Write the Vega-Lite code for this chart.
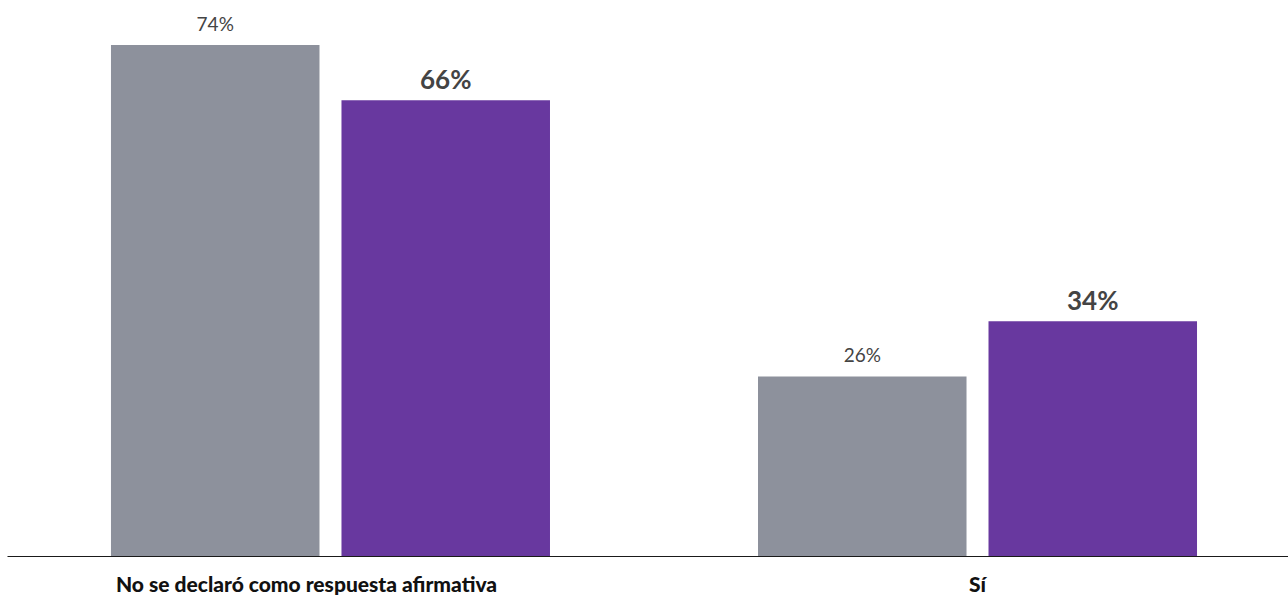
{
  "$schema": "https://vega.github.io/schema/vega-lite/v6.json",
  "autosize": "none",
  "padding": {"left": 7, "top": 0, "right": 0, "bottom": 42},
  "width": 1294,
  "height": 556,
  "background": "white",
  "config": {"view": {"stroke": null}, "font": "Lato"},
  "data": {
    "values": [
      {"categoria": "No se declaró como respuesta afirmativa", "serie": "Serie 1", "valor": 0.74},
      {"categoria": "No se declaró como respuesta afirmativa", "serie": "Serie 2", "valor": 0.66},
      {"categoria": "Sí", "serie": "Serie 1", "valor": 0.26},
      {"categoria": "Sí", "serie": "Serie 2", "valor": 0.34}
    ]
  },
  "encoding": {
    "x": {
      "field": "categoria",
      "type": "nominal",
      "sort": null,
      "scale": {"paddingInner": 0.3215, "paddingOuter": 0.1607},
      "axis": {
        "title": null,
        "labelAngle": 0,
        "ticks": false,
        "domainColor": "#1a1a1a",
        "domainWidth": 1.2,
        "labelFont": "Lato",
        "labelFontWeight": 900,
        "labelFontSize": 21,
        "labelColor": "#111111",
        "labelPadding": 18,
        "labelLimit": 0,
        "labelOffset": {"condition": {"test": "datum.value === 'Sí'", "value": 0}, "value": -24}
      }
    },
    "xOffset": {
      "field": "serie",
      "type": "nominal",
      "scale": {"paddingInner": 0.0954, "paddingOuter": 0}
    },
    "y": {
      "field": "valor",
      "type": "quantitative",
      "scale": {"domain": [0, 0.805], "nice": false, "zero": true},
      "axis": null
    }
  },
  "layer": [
    {
      "mark": {"type": "bar"},
      "encoding": {
        "color": {
          "field": "serie",
          "type": "nominal",
          "scale": {"domain": ["Serie 1", "Serie 2"], "range": ["#8d919c", "#68389f"]},
          "legend": null
        }
      }
    },
    {
      "transform": [{"filter": "datum.serie === 'Serie 1'"}],
      "mark": {"type": "text", "baseline": "alphabetic", "dy": -14, "font": "Lato", "fontSize": 19, "fontWeight": "normal", "color": "#444444"},
      "encoding": {"text": {"field": "valor", "type": "quantitative", "format": ".0%"}}
    },
    {
      "transform": [{"filter": "datum.serie === 'Serie 2'"}],
      "mark": {"type": "text", "baseline": "alphabetic", "dy": -11, "font": "Lato", "fontSize": 26, "fontWeight": "bold", "color": "#444444"},
      "encoding": {"text": {"field": "valor", "type": "quantitative", "format": ".0%"}}
    }
  ]
}
